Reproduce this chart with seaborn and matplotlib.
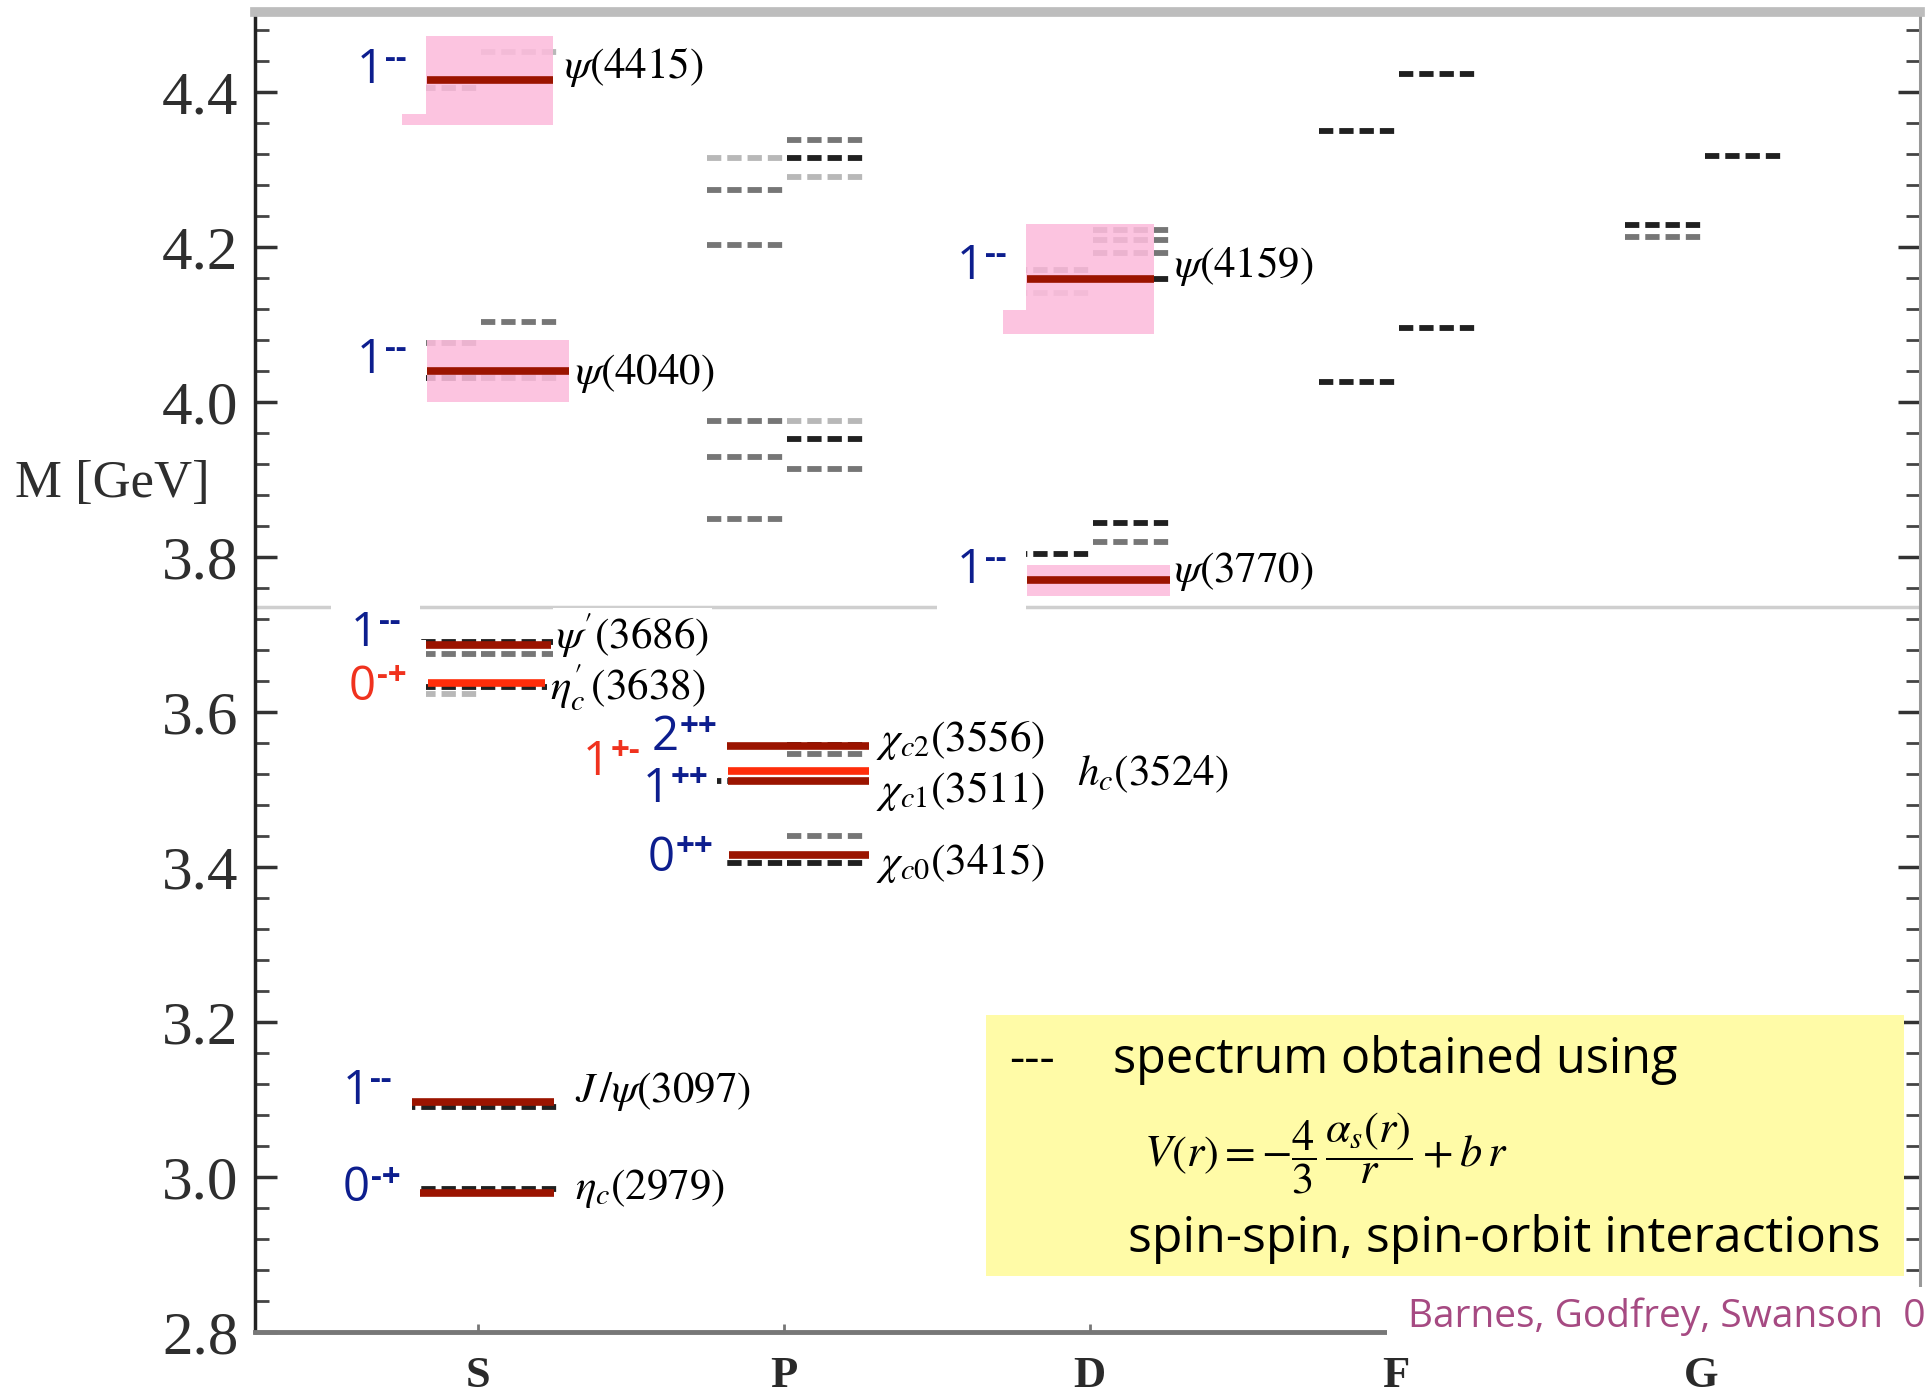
import numpy as np
import pandas as pd
import matplotlib
matplotlib.use("Agg")
import matplotlib.pyplot as plt
import seaborn as sns
from matplotlib.patches import Rectangle
from matplotlib.ticker import MultipleLocator

# ---------------- data ----------------
WAVES = ["S", "P", "D", "F", "G"]
Y_TICKS = [2.8, 3.0, 3.2, 3.4, 3.6, 3.8, 4.0, 4.2, 4.4]

# experimental charmonium states
exp_state = ["eta_c", "J/psi", "eta_c'", "psi'", "psi4040", "psi4415",
             "chi_c0", "chi_c1", "h_c", "chi_c2", "psi3770", "psi4159"]
exp_wave = ["S", "S", "S", "S", "S", "S", "P", "P", "P", "P", "D", "D"]
exp_mass = [2.979, 3.097, 3.638, 3.686, 4.040, 4.415,
            3.415, 3.511, 3.524, 3.556, 3.770, 4.159]
exp_jpc = ["0-+", "1--", "0-+", "1--", "1--", "1--",
           "0++", "1++", "1+-", "2++", "1--", "1--"]
exp_kind = ["est", "est", "new", "est", "est", "est",
            "est", "est", "new", "est", "est", "est"]
exp_band = [0, 0, 0, 0, 0.040, 0.058, 0, 0, 0, 0, 0.020, 0.071]
exp_text = [r"$\eta_c\mathrm{(2979)}$", r"$J\,/\psi\mathrm{(3097)}$",
            r"$\eta^{\prime}_{c}\,\mathrm{(3638)}$", r"$\psi^{\prime}\mathrm{(3686)}$",
            r"$\psi\mathrm{(4040)}$", r"$\psi\mathrm{(4415)}$",
            r"$\chi_{c0}\mathrm{(3415)}$", r"$\chi_{c1}\mathrm{(3511)}$",
            r"$h_c\mathrm{(3524)}$", r"$\chi_{c2}\mathrm{(3556)}$",
            r"$\psi\mathrm{(3770)}$", r"$\psi\mathrm{(4159)}$"]

# potential-model predictions (dashed levels): wave, sub-column, mass, grey tone
th_wave = (["S"] * 9 + ["S"] * 8 +
           ["P"] * 8 + ["P"] * 11 +
           ["D"] * 3 + ["D"] * 6 +
           ["F"] * 2 + ["F"] * 2 +
           ["G"] * 2 + ["G"] * 1)
th_sub = (["L"] * 9 + ["R"] * 8 +
          ["L"] * 8 + ["R"] * 11 +
          ["L"] * 3 + ["R"] * 6 +
          ["L"] * 2 + ["R"] * 2 +
          ["L"] * 2 + ["R"] * 1)
th_mass = [2.984, 3.091, 3.633, 3.623, 3.675, 3.690, 4.031, 4.076, 4.405,
           2.984, 3.091, 3.633, 3.675, 3.690, 4.031, 4.103, 4.452,
           3.405, 3.511, 3.849, 3.929, 3.976, 4.203, 4.274, 4.315,
           3.405, 3.440, 3.511, 3.546, 3.558, 3.914, 3.953, 3.976, 4.290, 4.315, 4.338,
           3.804, 4.141, 4.170,
           3.819, 3.844, 4.159, 4.193, 4.209, 4.222,
           4.026, 4.350,
           4.095, 4.423,
           4.213, 4.229,
           4.318]
th_tone = ["dark", "dark", "dark", "light", "mid", "dark", "dark", "mid", "mid",
           "dark", "dark", "dark", "mid", "dark", "mid", "mid", "light",
           "dark", "dark", "mid", "mid", "mid", "mid", "mid", "light",
           "dark", "mid", "dark", "mid", "dark", "mid", "dark", "light", "light", "dark", "mid",
           "dark", "light", "mid",
           "mid", "dark", "dark", "mid", "mid", "mid",
           "dark", "dark",
           "dark", "dark",
           "mid", "dark",
           "dark"]

# ---------------- layout (positions relative to the wave column) ----------------
SUB_SPAN = {"L": (-0.25, 0.0), "R": (0.01, 0.26)}
# line x0, line x1, JPC label right edge, JPC dy, name left edge, name dy, pink box left
LAYOUT = {
    "eta_c":   (-0.189, 0.251, -0.253, 0.006, 0.317, 0.006, None),
    "J/psi":   (-0.221, 0.251, -0.281, 0.014, 0.317, 0.014, None),
    "eta_c'":  (-0.161, 0.221, -0.233, -0.006, 0.237, -0.006, None),
    "psi'":    (-0.193, 0.241, -0.253, 0.016, 0.257, 0.013, None),
    "psi4040": (-0.166, 0.300, -0.233, 0.014, 0.317, -0.003, None),
    "psi4415": (-0.166, 0.247, -0.233, 0.013, 0.281, 0.018, -0.246),
    "chi_c0":  (-0.180, 0.279, -0.229, -0.004, 0.301, -0.010, None),
    "chi_c1":  (-0.183, 0.279, -0.245, -0.011, 0.301, -0.013, None),
    "h_c":     (-0.183, 0.279, -0.470, 0.011, 0.960, -0.004, None),
    "chi_c2":  (-0.186, 0.279, -0.217, 0.011, 0.301, 0.008, None),
    "psi3770": (-0.205, 0.263, -0.273, 0.013, 0.277, 0.011, None),
    "psi4159": (-0.205, 0.209, -0.273, 0.016, 0.277, 0.017, -0.283),
}
TONES = {"dark": "#202020", "mid": "#767676", "light": "#b8b8b8"}
LINE_COLORS = {"est": "#9b1400", "new": "#ff2d0a"}
JPC_COLORS = {"est": "#0d1e8e", "new": "#f0321e"}

# ---------------- style ----------------
sns.set_theme(style="white")
plt.rcParams["font.family"] = ["Liberation Serif", "DejaVu Sans"]
plt.rcParams["mathtext.fontset"] = "stix"
plt.rcParams["lines.scale_dashes"] = False
plt.rcParams["lines.solid_capstyle"] = "butt"
plt.rcParams["lines.dash_capstyle"] = "butt"
SANS = ["Open Sans", "DejaVu Sans"]

fig = plt.figure(figsize=(19.28, 13.96), dpi=100)
fig.patch.set_facecolor("white")
ax = fig.add_axes([0.1323, 0.0458, 0.9961 - 0.1323, 0.9912 - 0.0458])
ax.set_facecolor("white")
ax.set_xlim(-0.727, 4.715)
ax.set_ylim(2.8, 4.503)

# theory dashes
rows = []
for i, (w, s, m, t) in enumerate(zip(th_wave, th_sub, th_mass, th_tone)):
    c = WAVES.index(w)
    lo, hi = SUB_SPAN[s]
    rows.append(dict(x=c + lo, M=m, lid=i, tone=t))
    rows.append(dict(x=c + hi, M=m, lid=i, tone=t))
theory_df = pd.DataFrame(rows)
sns.lineplot(data=theory_df, x="x", y="M", units="lid", estimator=None,
             hue="tone", palette=TONES, linewidth=4.2,
             linestyle=(0, (10.3, 4.3)), legend=False, ax=ax, zorder=2)

# splice line of the composed picture
ax.axhline(3.736, color="#cfcfcf", lw=2.5, zorder=1.5)

# experimental lines
erows = []
for st, w, m, k in zip(exp_state, exp_wave, exp_mass, exp_kind):
    c = WAVES.index(w)
    x0, x1 = LAYOUT[st][0], LAYOUT[st][1]
    erows.append(dict(x=c + x0, M=m, sid=st, kind=k))
    erows.append(dict(x=c + x1, M=m, sid=st, kind=k))
exp_df = pd.DataFrame(erows)
sns.lineplot(data=exp_df, x="x", y="M", units="sid", estimator=None,
             hue="kind", palette=LINE_COLORS, linewidth=5.5,
             legend=False, ax=ax, zorder=4)
ax.set_xlim(-0.727, 4.715)
ax.set_ylim(2.8, 4.503)

renderer = fig.canvas.get_renderer()


def white_box(artists, pad_px, z):
    bbs = [a.get_window_extent(renderer) for a in artists]
    x0 = min(b.x0 for b in bbs) - pad_px
    x1 = max(b.x1 for b in bbs) + pad_px
    y0 = min(b.y0 for b in bbs) - pad_px
    y1 = max(b.y1 for b in bbs) + pad_px
    inv = ax.transData.inverted()
    (dx0, dy0), (dx1, dy1) = inv.transform([(x0, y0), (x1, y1)])
    ax.add_patch(Rectangle((dx0, dy0), dx1 - dx0, dy1 - dy0,
                           fc="white", ec="none", zorder=z))


# pink resonance boxes + labels
for st, w, m, k, band, jpc, txt in zip(exp_state, exp_wave, exp_mass, exp_kind,
                                       exp_band, exp_jpc, exp_text):
    c = WAVES.index(w)
    x0, x1, jx, jdy, nx, ndy, bx = LAYOUT[st]
    if band > 0:
        left = bx if bx is not None else x0
        ax.add_patch(Rectangle((c + left, m - band), x1 - left, 2 * band,
                               fc="#fcbcdc", ec="none", alpha=0.88, zorder=3))
    col = JPC_COLORS[k]
    zo = 7 if k == "new" else 6
    sup = ax.annotate(jpc[1:], xy=(c + jx, m + jdy), xytext=(0, 1.5),
                      textcoords="offset points", ha="right", va="baseline",
                      fontsize=24, fontweight="bold", color=col, family=SANS, zorder=zo)
    w_pt = sup.get_window_extent(renderer).width * 72 / fig.dpi + 0.5
    base = ax.annotate(jpc[0], xy=(c + jx, m + jdy), xytext=(-w_pt, 0),
                       textcoords="offset points", ha="right", va="center",
                       fontsize=34, color=col, family=SANS, zorder=zo)
    white_box([sup, base], 20 if w != "P" else 8, 5.5)
    name = ax.text(c + nx, m + ndy, txt, ha="left", va="center", fontsize=31,
                   color="black", zorder=zo)
    white_box([name], 3, 5.5)

# axes cosmetics
ax.set_xlabel("")
ax.set_xticks(range(len(WAVES)))
ax.set_xticklabels(WAVES, fontsize=32, fontweight="bold", color="#2a2a2a")
ax.set_yticks(Y_TICKS)
ax.set_yticklabels([f"{v:.1f}" for v in Y_TICKS], fontsize=44, color="#2e2e2e")
ax.yaxis.set_minor_locator(MultipleLocator(0.04))
ax.tick_params(axis="y", which="major", direction="in", length=16, width=2.5,
               left=True, right=True, pad=12, color="#333333")
ax.tick_params(axis="y", which="minor", direction="in", length=10, width=2,
               left=True, right=True, color="#444444")
ax.tick_params(axis="x", which="major", direction="in", length=6, width=2,
               bottom=True, pad=17, color="#777777")
for tk in ax.yaxis.get_major_ticks() + ax.yaxis.get_minor_ticks():
    tk.tick2line.set_color("#a8a8a8")
ax.set_ylabel("M [GeV]", fontsize=38, color="#2e2e2e", rotation=0,
              ha="left", va="center")
ax.yaxis.set_label_coords(-0.144, 0.6426)
for side, scol, lw in [("left", "#222222", 2.5), ("bottom", "#777777", 3.5),
                       ("top", "#bdbdbd", 7), ("right", "#999999", 2.2)]:
    ax.spines[side].set_visible(True)
    ax.spines[side].set_color(scol)
    ax.spines[side].set_linewidth(lw)

# annotation box
fig.patches.append(Rectangle((0.5114, 0.0860), 0.9876 - 0.5114, 0.2729 - 0.0860,
                             transform=fig.transFigure, fc="#fffba7", ec="none", zorder=1))
fig.text(0.5233, 0.2314, "---", fontsize=34, family=SANS, color="black", va="baseline", zorder=2)
fig.text(0.5773, 0.2314, "spectrum obtained using", fontsize=35, family=SANS,
         color="black", va="baseline", zorder=2)
fig.text(0.6878, 0.1741, r"$V(r) = -\dfrac{4}{3}\,\dfrac{\alpha_s(r)}{r} + b\,r$",
         fontsize=32, ha="center", va="center", color="black", zorder=2)
fig.text(0.5851, 0.1032, "spin-spin, spin-orbit interactions", fontsize=36, family=SANS,
         color="black", va="baseline", zorder=2)

# citation
fig.patches.append(Rectangle((0.7194, 0.0344), 0.2806, 0.0437,
                             transform=fig.transFigure, fc="white", ec="none", zorder=1))
fig.text(0.7303, 0.0494, "Barnes, Godfrey, Swanson  0", fontsize=28, family=SANS,
         color="#a64a82", va="baseline", zorder=2)

fig.savefig("out.png", dpi=100, facecolor="white")
